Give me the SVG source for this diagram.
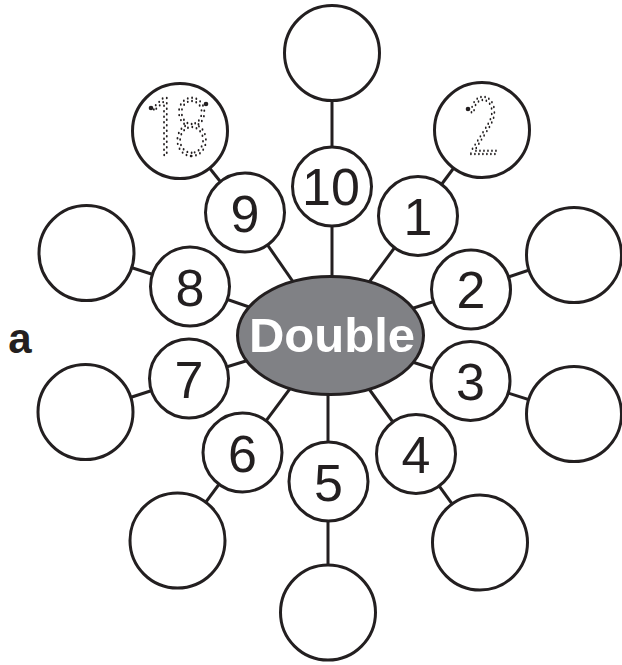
<svg xmlns="http://www.w3.org/2000/svg" width="622" height="665" viewBox="0 0 622 665">
<style>
.ln{stroke:#231f20;stroke-width:3;fill:none}
.sm{fill:#fff;stroke:#231f20;stroke-width:3}
.lg{fill:#fff;stroke:#231f20;stroke-width:3}
.num{font-family:"Liberation Sans",Arial,sans-serif;font-size:52px;fill:#231f20;text-anchor:middle}
.dot{font-family:"DejaVu Sans ExtraLight",Inter,"Liberation Sans",sans-serif;font-weight:200;font-size:78px;fill:none;stroke:#231f20;stroke-width:2.4;stroke-dasharray:0 5.5;stroke-linecap:round}
.sd{fill:#231f20}
</style>
<rect width="622" height="665" fill="#fff"/>
<g id="connectors">
<line class="ln" x1="332" y1="335" x2="332" y2="186.5"/><line class="ln" x1="332" y1="186.5" x2="332" y2="53"/>
<line class="ln" x1="330" y1="335" x2="418" y2="216"/><line class="ln" x1="418" y1="216" x2="482" y2="130"/>
<line class="ln" x1="330" y1="335" x2="471" y2="289.5"/><line class="ln" x1="471" y1="289.5" x2="574" y2="255"/>
<line class="ln" x1="330" y1="335" x2="470.5" y2="381"/><line class="ln" x1="470.5" y1="381" x2="574" y2="414"/>
<line class="ln" x1="330" y1="335" x2="416" y2="454"/><line class="ln" x1="416" y1="454" x2="480" y2="542.5"/>
<line class="ln" x1="328" y1="335" x2="328" y2="481.5"/><line class="ln" x1="328" y1="481.5" x2="328" y2="612.5"/>
<line class="ln" x1="330" y1="335" x2="242.5" y2="452.5"/><line class="ln" x1="242.5" y1="452.5" x2="177.5" y2="540.5"/>
<line class="ln" x1="330" y1="335" x2="189" y2="378.5"/><line class="ln" x1="189" y1="378.5" x2="85.5" y2="412"/>
<line class="ln" x1="330" y1="335" x2="190" y2="286.5"/><line class="ln" x1="190" y1="286.5" x2="86.5" y2="253"/>
<line class="ln" x1="330" y1="335" x2="245" y2="212.5"/><line class="ln" x1="245" y1="212.5" x2="180" y2="131"/>
</g>
<g id="center">
<ellipse cx="330.5" cy="335.5" rx="93" ry="59" fill="#808185" stroke="#231f20" stroke-width="3"/>
<text x="332" y="352" font-family="'Liberation Sans',Arial,sans-serif" font-weight="bold" font-size="49" fill="#fff" text-anchor="middle">Double</text>
</g>
<g id="label-a"><text x="20" y="353" font-family="'Liberation Sans',Arial,sans-serif" font-weight="bold" font-size="42" fill="#231f20" text-anchor="middle">a</text></g>
<g id="n10"><circle class="sm" cx="332" cy="186.5" r="39.5"/><text class="num" x="331" y="205">10</text></g>
<g id="n1"><circle class="sm" cx="418" cy="216" r="39.5"/><text class="num" x="418" y="235">1</text></g>
<g id="n2"><circle class="sm" cx="471" cy="289.5" r="39.5"/><text class="num" x="471" y="308">2</text></g>
<g id="n3"><circle class="sm" cx="470.5" cy="381" r="39.5"/><text class="num" x="470.5" y="400">3</text></g>
<g id="n4"><circle class="sm" cx="416" cy="454" r="39.5"/><text class="num" x="416" y="473">4</text></g>
<g id="n5"><circle class="sm" cx="328.5" cy="481.5" r="39.5"/><text class="num" x="328.5" y="501">5</text></g>
<g id="n6"><circle class="sm" cx="242.5" cy="452.5" r="39.5"/><text class="num" x="242.5" y="472">6</text></g>
<g id="n7"><circle class="sm" cx="189" cy="378.5" r="39.5"/><text class="num" x="189" y="398">7</text></g>
<g id="n8"><circle class="sm" cx="190" cy="286.5" r="39.5"/><text class="num" x="190" y="306">8</text></g>
<g id="n9"><circle class="sm" cx="245" cy="212.5" r="39.5"/><text class="num" x="245" y="232">9</text></g>
<g id="a10"><circle class="lg" cx="332" cy="53" r="47.5"/></g>
<g id="a1"><circle class="lg" cx="482" cy="130" r="47.5"/><text class="dot" x="483.5" y="154" text-anchor="middle" textLength="35" lengthAdjust="spacingAndGlyphs">2</text><circle class="sd" cx="468" cy="109" r="2.3"/></g>
<g id="a2"><circle class="lg" cx="574" cy="255" r="47.5"/></g>
<g id="a3"><circle class="lg" cx="574" cy="414" r="47.5"/></g>
<g id="a4"><circle class="lg" cx="480" cy="542.5" r="47.5"/></g>
<g id="a5"><circle class="lg" cx="328" cy="612.5" r="47.5"/></g>
<g id="a6"><circle class="lg" cx="177.5" cy="540.5" r="47.5"/></g>
<g id="a7"><circle class="lg" cx="85.5" cy="412" r="47.5"/></g>
<g id="a8"><circle class="lg" cx="86.5" cy="253" r="47.5"/></g>
<g id="a9"><circle class="lg" cx="180" cy="131" r="47.5"/><text class="dot" x="180" y="155" text-anchor="middle" textLength="60" lengthAdjust="spacingAndGlyphs">18</text><circle class="sd" cx="151" cy="108" r="2.3"/><circle class="sd" cx="206" cy="104" r="2.3"/></g>
</svg>
